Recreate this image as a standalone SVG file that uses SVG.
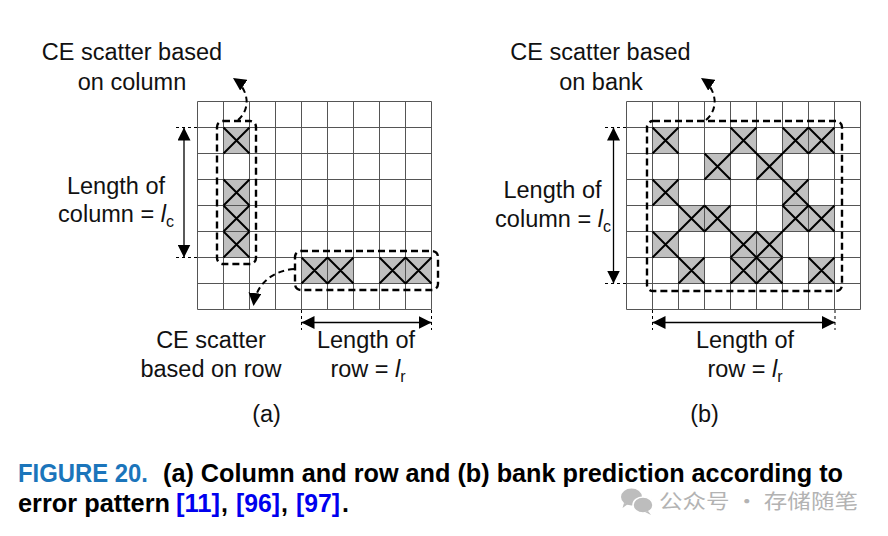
<svg xmlns="http://www.w3.org/2000/svg" width="888" height="536" viewBox="0 0 888 536">
<style>
.t{font-family:"Liberation Sans",Arial,sans-serif;font-size:23.5px;fill:#111;text-anchor:middle}
.g{stroke:#555;stroke-width:1;fill:none}
.f{fill:#c0c0c0;stroke:none}
.x{stroke:#000;stroke-width:2;fill:none}
.d{stroke:#000;stroke-width:2.4;fill:none;stroke-dasharray:7 4}
.dc{stroke:#000;stroke-width:2;fill:none;stroke-dasharray:6 4}
.ext{stroke:#000;stroke-width:1;stroke-dasharray:3 3;fill:none}
.ar{stroke:#000;stroke-width:1.3;fill:none}
.cap{font-family:"Liberation Sans Narrow","Liberation Sans",Arial,sans-serif;font-size:25px;font-weight:bold}
.sub{font-size:16px}
</style>
<defs>
<marker id="ah" viewBox="0 0 10 10" refX="10" refY="5" markerWidth="13" markerHeight="13" markerUnits="userSpaceOnUse" orient="auto-start-reverse"><path d="M0,0 L10,5 L0,10 z" fill="#000"/></marker>
<marker id="ah2" viewBox="0 0 10 10" refX="10" refY="5" markerWidth="13" markerHeight="13" markerUnits="userSpaceOnUse" orient="auto"><path d="M0,0 L10,5 L0,10 z" fill="#000"/></marker>
</defs>

<!-- Grid (a) -->
<g id="gridA">
<g id="fillsA">
<rect class="f" x="223.5" y="127.5" width="26" height="26"/>
<rect class="f" x="223.5" y="179.5" width="26" height="78"/>
<rect class="f" x="301.5" y="257.5" width="52" height="26"/>
<rect class="f" x="379.5" y="257.5" width="52" height="26"/>
</g>
<path class="g" d="M197.5,101.5V309.5M223.5,101.5V309.5M249.5,101.5V309.5M275.5,101.5V309.5M301.5,101.5V309.5M327.5,101.5V309.5M353.5,101.5V309.5M379.5,101.5V309.5M405.5,101.5V309.5M431.5,101.5V309.5
M197.5,101.5H431.5M197.5,127.5H431.5M197.5,153.5H431.5M197.5,179.5H431.5M197.5,205.5H431.5M197.5,231.5H431.5M197.5,257.5H431.5M197.5,283.5H431.5M197.5,309.5H431.5"/>
<path class="x" d="M223.5,127.5l26,26m0,-26l-26,26
M223.5,179.5l26,26m0,-26l-26,26
M223.5,205.5l26,26m0,-26l-26,26
M223.5,231.5l26,26m0,-26l-26,26
M301.5,257.5l26,26m0,-26l-26,26
M327.5,257.5l26,26m0,-26l-26,26
M379.5,257.5l26,26m0,-26l-26,26
M405.5,257.5l26,26m0,-26l-26,26"/>
</g>

<!-- Grid (b) -->
<g id="gridB">
<g id="fillsB">
<rect class="f" x="652.5" y="127.5" width="26" height="26"/>
<rect class="f" x="730.5" y="127.5" width="26" height="26"/>
<rect class="f" x="782.5" y="127.5" width="52" height="26"/>
<rect class="f" x="704.5" y="153.5" width="26" height="26"/>
<rect class="f" x="756.5" y="153.5" width="26" height="26"/>
<rect class="f" x="652.5" y="179.5" width="26" height="26"/>
<rect class="f" x="782.5" y="179.5" width="26" height="26"/>
<rect class="f" x="678.5" y="205.5" width="52" height="26"/>
<rect class="f" x="782.5" y="205.5" width="52" height="26"/>
<rect class="f" x="652.5" y="231.5" width="26" height="26"/>
<rect class="f" x="730.5" y="231.5" width="52" height="26"/>
<rect class="f" x="678.5" y="257.5" width="26" height="26"/>
<rect class="f" x="730.5" y="257.5" width="52" height="26"/>
<rect class="f" x="808.5" y="257.5" width="26" height="26"/>
</g>
<path class="g" d="M626.5,101.5V309.5M652.5,101.5V309.5M678.5,101.5V309.5M704.5,101.5V309.5M730.5,101.5V309.5M756.5,101.5V309.5M782.5,101.5V309.5M808.5,101.5V309.5M834.5,101.5V309.5M860.5,101.5V309.5
M626.5,101.5H860.5M626.5,127.5H860.5M626.5,153.5H860.5M626.5,179.5H860.5M626.5,205.5H860.5M626.5,231.5H860.5M626.5,257.5H860.5M626.5,283.5H860.5M626.5,309.5H860.5"/>
<path class="x" d="M652.5,127.5l26,26m0,-26l-26,26
M730.5,127.5l26,26m0,-26l-26,26
M782.5,127.5l26,26m0,-26l-26,26
M808.5,127.5l26,26m0,-26l-26,26
M704.5,153.5l26,26m0,-26l-26,26
M756.5,153.5l26,26m0,-26l-26,26
M652.5,179.5l26,26m0,-26l-26,26
M782.5,179.5l26,26m0,-26l-26,26
M678.5,205.5l26,26m0,-26l-26,26
M704.5,205.5l26,26m0,-26l-26,26
M782.5,205.5l26,26m0,-26l-26,26
M808.5,205.5l26,26m0,-26l-26,26
M652.5,231.5l26,26m0,-26l-26,26
M730.5,231.5l26,26m0,-26l-26,26
M756.5,231.5l26,26m0,-26l-26,26
M678.5,257.5l26,26m0,-26l-26,26
M730.5,257.5l26,26m0,-26l-26,26
M756.5,257.5l26,26m0,-26l-26,26
M808.5,257.5l26,26m0,-26l-26,26"/>
</g>

<!-- Dashed groupings -->
<g id="groupColA"><rect class="d" x="217" y="121" width="39" height="143" rx="6"/></g>
<g id="groupRowA"><rect class="d" x="295" y="251" width="143" height="39" rx="6"/></g>
<g id="groupBankB"><rect class="d" x="647" y="121" width="195" height="170" rx="6"/></g>

<!-- Connectors -->
<g id="connectors">
<path class="dc" d="M238,120 C252,108 248,88 233,78" marker-end="url(#ah2)"/>
<path class="dc" d="M294,269 C272,271 256,284 253.5,306" marker-end="url(#ah2)"/>
<path class="dc" d="M706,120 C720,108 716,88 701,78" marker-end="url(#ah2)"/>
<path class="ext" d="M176,127.5H197M176,257.5H197"/>
<path class="ar" d="M184,127.5V257.5" marker-start="url(#ah)" marker-end="url(#ah)"/>
<path class="ext" d="M301.5,310V330M431.5,310V330"/>
<path class="ar" d="M301.5,322.5H431.5" marker-start="url(#ah)" marker-end="url(#ah)"/>
<path class="ext" d="M605,127.5H626M605,283.5H626"/>
<path class="ar" d="M613.5,127.5V283.5" stroke="#333" marker-start="url(#ah)" marker-end="url(#ah)"/>
<path class="ext" d="M652.5,310V330M835,310V330"/>
<path class="ar" d="M652.5,322.5H835" marker-start="url(#ah)" marker-end="url(#ah)"/>
</g>

<!-- Labels (a) -->
<g id="labelColScatter">
<text class="t" x="132" y="60">CE scatter based</text>
<text class="t" x="132" y="89.5">on column</text>
</g>
<g id="labelLenColA">
<text class="t" x="116" y="194">Length of</text>
<text class="t" x="116" y="222">column = <tspan font-style="italic">l</tspan><tspan class="sub" dy="5">c</tspan></text>
</g>
<g id="labelRowScatter">
<text class="t" x="211" y="347.5">CE scatter</text>
<text class="t" x="211" y="377">based on row</text>
</g>
<g id="labelLenRowA">
<text class="t" x="366" y="347.5">Length of</text>
<text class="t" x="368" y="377">row = <tspan font-style="italic">l</tspan><tspan class="sub" dy="5">r</tspan></text>
</g>
<text class="t" x="266.5" y="422">(a)</text>

<!-- Labels (b) -->
<g id="labelBankScatter">
<text class="t" x="600.5" y="60">CE scatter based</text>
<text class="t" x="601" y="89.5">on bank</text>
</g>
<g id="labelLenColB">
<text class="t" x="552.5" y="198">Length of</text>
<text class="t" x="553" y="227">column = <tspan font-style="italic">l</tspan><tspan class="sub" dy="5">c</tspan></text>
</g>
<g id="labelLenRowB">
<text class="t" x="745" y="347.5">Length of</text>
<text class="t" x="745" y="377">row = <tspan font-style="italic">l</tspan><tspan class="sub" dy="5">r</tspan></text>
</g>
<text class="t" x="704.5" y="422">(b)</text>

<!-- Caption -->
<g id="caption">
<text class="cap" x="18" y="482" fill="#1b75bb" textLength="130" lengthAdjust="spacingAndGlyphs">FIGURE 20.</text>
<text class="cap" x="163" y="482" fill="#000" textLength="680" lengthAdjust="spacingAndGlyphs">(a) Column and row and (b) bank prediction according to</text>
<text class="cap" x="18" y="512" fill="#000" textLength="152" lengthAdjust="spacingAndGlyphs">error pattern</text>
<text class="cap" x="176" y="512" fill="#0000ee" textLength="44" lengthAdjust="spacingAndGlyphs">[11]</text>
<text class="cap" x="221" y="512" fill="#000">,</text>
<text class="cap" x="236" y="512" fill="#0000ee" textLength="44" lengthAdjust="spacingAndGlyphs">[96]</text>
<text class="cap" x="281" y="512" fill="#000">,</text>
<text class="cap" x="296" y="512" fill="#0000ee" textLength="44" lengthAdjust="spacingAndGlyphs">[97]</text>
<text class="cap" x="342" y="512" fill="#000">.</text>
</g>

<!-- Watermark -->
<g id="watermark">
<ellipse cx="631.5" cy="497" rx="10.5" ry="8.5" fill="#bdbdbd"/>
<path d="M624,503 L622.5,508 L628,504 z" fill="#bdbdbd"/>
<ellipse cx="643" cy="505" rx="10" ry="8" fill="#bdbdbd" stroke="#fff" stroke-width="1.5"/>
<path d="M648,511 L651,515 L645,512 z" fill="#bdbdbd"/>
<text x="659" y="509" font-family="'Noto Sans CJK SC',sans-serif" font-size="20" fill="#b3b3b3" textLength="199" lengthAdjust="spacingAndGlyphs">公众号 · 存储随笔</text>
</g>
</svg>
